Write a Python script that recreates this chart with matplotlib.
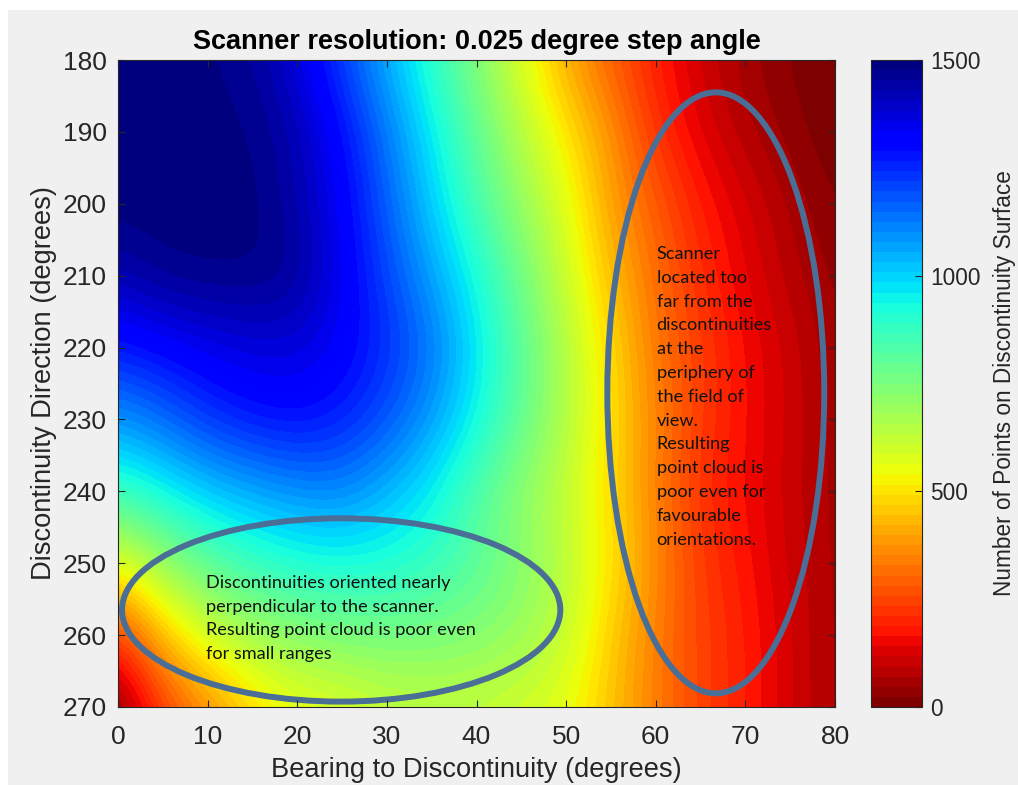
import numpy as np
import matplotlib
matplotlib.use("Agg")
import matplotlib.pyplot as plt
from matplotlib.patches import Ellipse, Rectangle
from matplotlib.cm import ScalarMappable
from matplotlib.colors import Normalize

# Grid the map was read on (degrees)
bearing = [0, 5, 10, 15, 20, 25, 30, 35, 40, 45, 50, 55, 60, 65, 70, 75, 80]
direction = [180, 190, 200, 210, 220, 230, 240, 250, 260, 270]

# Number of points on discontinuity surface, one row per direction
row_180 = [1490, 1490, 1480, 1460, 1370, 1210, 1050, 890, 740, 580, 410, 290, 187, 110, 55, 18, 0]
row_190 = [1490, 1490, 1490, 1480, 1430, 1300, 1130, 960, 800, 650, 510, 375, 218, 137, 75, 35, 0]
row_200 = [1495, 1495, 1495, 1490, 1436, 1327, 1169, 1003, 846, 703, 572, 393, 286, 187, 125, 65, 19]
row_210 = [1430, 1475, 1485, 1485, 1465, 1340, 1207, 1069, 925, 774, 609, 442, 314, 213, 142, 82, 37]
row_220 = [1270, 1310, 1345, 1369, 1369, 1330, 1246, 1140, 975, 810, 655, 487, 332, 240, 160, 112, 45]
row_230 = [1090, 1150, 1230, 1280, 1300, 1265, 1190, 1080, 940, 800, 655, 500, 350, 235, 165, 110, 56]
row_240 = [870, 940, 1010, 1055, 1095, 1110, 1040, 955, 825, 715, 620, 490, 345, 215, 160, 105, 58]
row_250 = [560, 700, 800, 870, 910, 925, 915, 880, 815, 735, 640, 510, 360, 235, 175, 110, 60]
row_260 = [220, 450, 600, 680, 725, 750, 760, 755, 735, 700, 620, 470, 340, 245, 190, 120, 60]
row_270 = [0, 230, 350, 470, 550, 565, 610, 620, 620, 590, 560, 450, 340, 245, 190, 120, 60]

points = np.array([row_180, row_190, row_200, row_210, row_220,
                   row_230, row_240, row_250, row_260, row_270], dtype=float)

cbar_ticks = [0, 500, 1000, 1500]

note_low = ("Discontinuities oriented nearly\n"
            "perpendicular to the scanner.\n"
            "Resulting point cloud is poor even\n"
            "for small ranges")
note_far = ("Scanner\nlocated too\nfar from the\ndiscontinuities\nat the\n"
            "periphery of\nthe field of\nview.\nResulting\npoint cloud is\n"
            "poor even for\nfavourable\norientations.")

plt.rcParams['font.family'] = ['Liberation Sans', 'DejaVu Sans']
grey = '#262626'
ring = '#4a6e96'

fig = plt.figure(figsize=(10.18, 7.85), dpi=100, facecolor='white')
fig.patches.append(Rectangle((8 / 1018, 0), 1, 775 / 785, transform=fig.transFigure,
                             facecolor='#f0f0f0', edgecolor='none', zorder=-10))

cmap = matplotlib.colormaps['jet_r'].resampled(64)
norm = Normalize(0, 1500)

ax = fig.add_axes([118 / 1018, 78 / 785, 717 / 1018, 647 / 785])
# cells centred on the grid points, smoothed by the library
ax.imshow(points, cmap=cmap, norm=norm, aspect='auto', origin='upper',
          extent=[bearing[0] - 2.5, bearing[-1] + 2.5, direction[-1] + 5, direction[0] - 5],
          interpolation='bicubic', interpolation_stage='data')
ax.set_xlim(0, 80)
ax.set_ylim(270, 180)
ax.set_xticks(range(0, 81, 10))
ax.set_yticks(range(180, 271, 10))
ax.tick_params(direction='in', top=True, right=True, length=5, width=0.8,
               colors=grey, labelsize=19)
ax.tick_params(axis='x', pad=13)
ax.tick_params(axis='y', pad=8)
for s in ax.spines.values():
    s.set_color(grey)
    s.set_linewidth(0.8)

ax.set_title("Scanner resolution: 0.025 degree step angle", fontsize=19.5,
             fontweight='bold', pad=8)
ax.set_xlabel("Bearing to Discontinuity (degrees)", fontsize=19.6, color=grey,
              labelpad=6)
ax.set_ylabel("Discontinuity Direction (degrees)", fontsize=19.6, color=grey,
              labelpad=4)

# annotation rings
ax.add_patch(Ellipse((24.9, 256.5), 48.9, 25.5, fill=False, edgecolor=ring,
                     linewidth=4.3, clip_on=False))
ax.add_patch(Ellipse((66.7, 226.3), 24.2, 83.6, fill=False, edgecolor=ring,
                     linewidth=4.3, clip_on=False))
# va='baseline' pins the last line's baseline
ax.text(9.8, 263.3, note_low, family='Lato', fontsize=13.1, color='#111111',
        va='baseline', ha='left', linespacing=1.58)
ax.text(60.1, 247.4, note_far, family='Lato', fontsize=13.1, color='#111111',
        va='baseline', ha='left', linespacing=1.6)

# colorbar
cax = fig.add_axes([871 / 1018, 78 / 785, 51 / 1018, 647 / 785])
cb = fig.colorbar(ScalarMappable(norm=norm, cmap=cmap), cax=cax, ticks=cbar_ticks)
cb.outline.set_edgecolor(grey)
cb.outline.set_linewidth(0.8)
cax.tick_params(direction='in', length=5, width=0.8, colors=grey, labelsize=16.3, pad=6)
cb.set_label("Number of Points on Discontinuity Surface", fontsize=16.3, color=grey,
             labelpad=9)

fig.savefig("out.png", dpi=100, facecolor=fig.get_facecolor())
